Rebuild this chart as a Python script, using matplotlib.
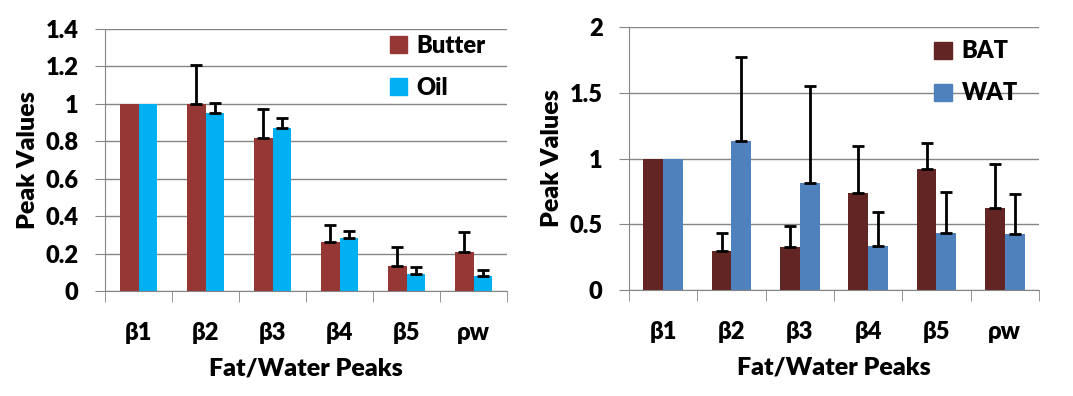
import matplotlib

matplotlib.use("Agg")
import matplotlib.pyplot as plt
import numpy as np
from matplotlib.patches import Patch

plt.rcParams["font.family"] = ["Lato", "DejaVu Sans"]
plt.rcParams["font.weight"] = "heavy"

peaks = ["β1", "β2", "β3", "β4", "β5", "ρw"]

butter = [1.0, 1.0, 0.82, 0.263, 0.135, 0.208]
butter_err = [0.0, 0.206, 0.155, 0.09, 0.10, 0.105]
oil = [1.0, 0.95, 0.87, 0.284, 0.092, 0.082]
oil_err = [0.0, 0.055, 0.055, 0.034, 0.034, 0.032]

bat = [1.0, 0.299, 0.330, 0.740, 0.920, 0.626]
bat_err = [0.0, 0.137, 0.154, 0.358, 0.200, 0.335]
wat = [1.0, 1.136, 0.816, 0.337, 0.436, 0.428]
wat_err = [0.0, 0.636, 0.738, 0.254, 0.307, 0.299]

GRID = "#868686"
W = "heavy"


def panel(ax, a, a_err, b, b_err, names, colors, ymax, ystep, yfmt, bw, leg_y):
    x = np.arange(len(peaks))
    ax.bar(x - bw / 2, a, bw, color=colors[0], zorder=2)
    ax.bar(x + bw / 2, b, bw, color=colors[1], zorder=2)
    # upper-only error bars, skip the normalised first peak
    for off, vals, errs in [(-bw / 2, a, a_err), (bw / 2, b, b_err)]:
        ax.errorbar(x[1:] + off, vals[1:], yerr=[np.zeros(len(vals) - 1), errs[1:]],
                    fmt="none", ecolor="black", elinewidth=2, capsize=4, capthick=2, zorder=3)

    ax.set_xlim(-0.5, len(peaks) - 0.5)
    ax.set_ylim(0, ymax)
    ticks = np.arange(0, ymax + 1e-9, ystep)
    ax.set_yticks(ticks)
    ax.set_yticklabels([yfmt(t) for t in ticks], fontsize=17, fontweight=W)
    ax.yaxis.grid(True, color=GRID, linewidth=1)
    ax.set_axisbelow(True)
    ax.tick_params(axis="y", length=7, color=GRID, pad=12)

    ax.set_xticks(x)
    ax.set_xticklabels(peaks, fontsize=17, fontweight=W)
    ax.set_xticks(np.arange(-0.5, len(peaks)), minor=True)
    ax.tick_params(axis="x", which="major", length=0, pad=22)
    ax.tick_params(axis="x", which="minor", length=8, color=GRID)

    for s in ["top", "right"]:
        ax.spines[s].set_visible(False)
    for s in ["left", "bottom"]:
        ax.spines[s].set_color(GRID)

    ax.set_xlabel("Fat/Water Peaks", fontsize=18, fontweight=W, labelpad=10)
    ax.set_ylabel("Peak Values", fontsize=18, fontweight=W, labelpad=5)

    handles = [Patch(color=colors[0]), Patch(color=colors[1])]
    ax.legend(handles, names, loc="upper right", bbox_to_anchor=(1.0, leg_y), frameon=False,
              prop={"size": 17, "weight": W}, handlelength=0.75, handleheight=0.75,
              labelspacing=0.85, handletextpad=0.4)


fig = plt.figure(figsize=(10.73, 3.96), dpi=100)
ax1 = fig.add_axes([0.0979, 0.2652, 0.3747, 0.6616])
ax2 = fig.add_axes([0.5862, 0.2677, 0.3821, 0.6640])

panel(ax1, butter, butter_err, oil, oil_err, ["Butter", "Oil"], ["#953735", "#00B0F0"],
      1.4, 0.2, lambda t: "0" if t == 0 else ("1" if abs(t - 1) < 1e-9 else f"{t:.1f}"), 0.28, 1.06)
panel(ax2, bat, bat_err, wat, wat_err, ["BAT", "WAT"], ["#632523", "#4F81BD"],
      2.0, 0.5, lambda t: f"{t:g}", 0.29, 1.03)

fig.savefig("out.png", dpi=100)
